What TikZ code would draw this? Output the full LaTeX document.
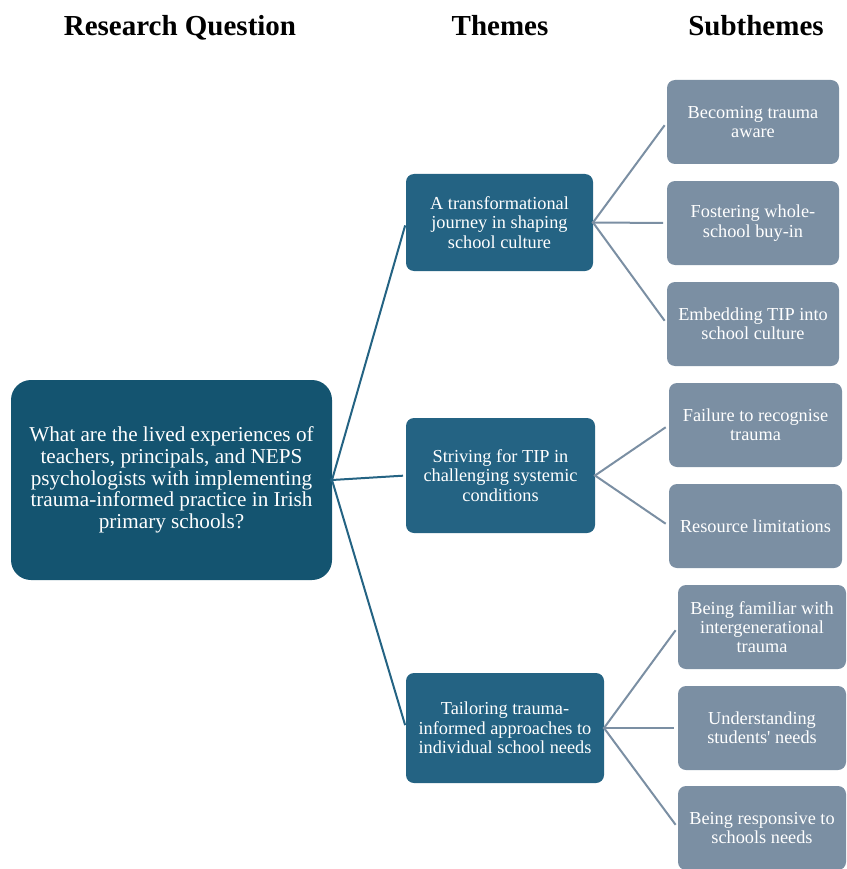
\documentclass[tikz,border=0pt]{standalone}
\usepackage{fontspec}
\setmainfont{Liberation Serif}[Ligatures=TeXOff]
\definecolor{mainblue}{RGB}{20,84,112}
\definecolor{themeblue}{RGB}{36,99,131}
\definecolor{subgray}{RGB}{123,143,163}
\begin{document}
\begin{tikzpicture}[x=1pt,y=-1pt,
  title/.style={font=\fontsize{29}{34}\selectfont\bfseries, anchor=base, inner sep=0pt},
  mainbox/.style={fill=mainblue, rounded corners=20pt, text=white, align=center,
    font=\fontsize{21.2}{21.8}\selectfont, inner sep=0pt, outer sep=0pt},
  themebox/.style={fill=themeblue, rounded corners=8pt, text=white, align=center,
    font=\fontsize{18.3}{19.5}\selectfont, inner sep=0pt, outer sep=0pt},
  subbox/.style={fill=subgray, rounded corners=8pt, text=white, align=center,
    font=\fontsize{18.3}{19.3}\selectfont, inner sep=0pt, outer sep=0pt,
    minimum height=84pt},
  mainline/.style={draw=themeblue, line width=2pt},
  subline/.style={draw=subgray, line width=2pt}]
\useasboundingbox (0,0) rectangle (846,869);

\node[title] (t1) at (180,36) {Research Question};
\node[title] (t2) at (500,36) {Themes};
\node[title] (t3) at (756,36) {Subthemes};

\node[mainbox, minimum width=321pt, minimum height=200pt] (m) at (171.5,480)
  {What are the lived experiences of\\teachers, principals, and NEPS\\psychologists with implementing\\trauma-informed practice in Irish\\primary schools?};

\node[themebox, minimum width=187pt, minimum height=97pt] (a) at (499.5,222.5)
  {A transformational\\journey in shaping\\school culture};
\node[themebox, minimum width=189pt, minimum height=115pt] (b) at (500.5,475.5)
  {Striving for TIP in\\challenging systemic\\conditions};
\node[themebox, minimum width=198pt, minimum height=110pt] (c) at (505,728)
  {Tailoring trauma-\\informed approaches to\\individual school needs};

\node[subbox, minimum width=172pt] (s1) at (753,122) {Becoming trauma\\aware};
\node[subbox, minimum width=172pt] (s2) at (753,223) {Fostering whole-\\school buy-in};
\node[subbox, minimum width=172pt] (s3) at (753,324) {Embedding TIP into\\school culture};
\node[subbox, minimum width=173pt] (s4) at (755.5,425) {Failure to recognise\\trauma};
\node[subbox, minimum width=173pt] (s5) at (755.5,526) {Resource limitations};
\node[subbox, minimum width=168pt] (s6) at (762,627) {Being familiar with\\intergenerational\\trauma};
\node[subbox, minimum width=168pt] (s7) at (762,728) {Understanding\\students' needs};
\node[subbox, minimum width=168pt] (s8) at (762,828) {Being responsive to\\schools needs};

\draw[mainline, shorten <=-2pt, shorten >=3pt] (m.east) -- (a.west);
\draw[mainline, shorten <=-2pt, shorten >=3pt] (m.east) -- (b.west);
\draw[mainline, shorten <=-2pt, shorten >=3pt] (m.east) -- (c.west);

\foreach \s in {s1,s2,s3} \draw[subline, shorten <=-1pt, shorten >=4pt] (a.east) -- (\s.west);
\foreach \s in {s4,s5} \draw[subline, shorten <=-1pt, shorten >=4pt] (b.east) -- (\s.west);
\foreach \s in {s6,s7,s8} \draw[subline, shorten <=-1pt, shorten >=4pt] (c.east) -- (\s.west);
\end{tikzpicture}
\end{document}
